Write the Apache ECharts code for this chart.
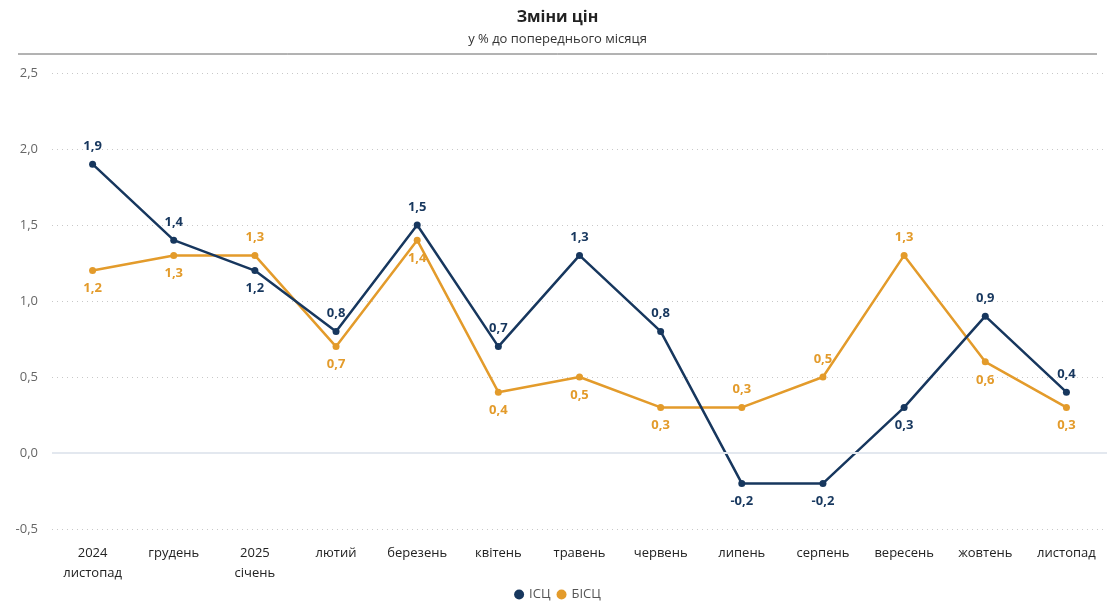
<!DOCTYPE html>
<html><head><meta charset="utf-8">
<script src="https://cdn.jsdelivr.net/npm/echarts@6/dist/echarts.min.js"></script>
<style>html,body{margin:0;padding:0;background:#fff}#c{width:1115px;height:606px}</style>
</head><body><div id="c"></div>
<script>
const categories = ['2024\nлистопад','грудень','2025\nсічень','лютий','березень','квітень','травень','червень','липень','серпень','вересень','жовтень','листопад'];
const isc = [1.9, 1.4, 1.2, 0.8, 1.5, 0.7, 1.3, 0.8, -0.2, -0.2, 0.3, 0.9, 0.4];
const bisc = [1.2, 1.3, 1.3, 0.7, 1.4, 0.4, 0.5, 0.3, 0.3, 0.5, 1.3, 0.6, 0.3];
const iscBelow = [2, 8, 9, 10];
const biscAbove = [2, 8, 9, 10];

const NAVY = '#17375e', ORANGE = '#e39b2b';
const fmt = v => v.toFixed(1).replace('.', ',');
const chart = echarts.init(document.getElementById('c'));
function mk(vals, isBelowFn) {
  return vals.map((v, i) => ({
    value: v,
    label: { position: isBelowFn(i) ? 'bottom' : 'top' }
  }));
}
chart.setOption({
  animation: false,
  textStyle: { fontFamily: '"Open Sans", "Noto Sans", sans-serif' },
  title: {
    text: 'Зміни цін', subtext: 'у % до попереднього місяця', left: 'center', top: 4,
    textStyle: { fontSize: 16, fontWeight: 'bold', color: '#222' },
    subtextStyle: { fontSize: 13, color: '#333' }, itemGap: 8
  },
  graphic: [{ type: 'line', shape: { x1: 18, y1: 54, x2: 1097, y2: 54 }, style: { stroke: '#666', lineWidth: 1 } }],
  legend: {
    bottom: 0, left: 'center', icon: 'circle', itemWidth: 10, itemHeight: 10, itemGap: 6,
    textStyle: { fontSize: 13, color: '#555' }
  },
  grid: { left: 52, right: 8, top: 73, bottom: 77 },
  xAxis: {
    type: 'category', data: categories, boundaryGap: true,
    axisLine: { show: false }, axisTick: { show: false },
    axisLabel: { color: '#222', fontSize: 13, lineHeight: 20, margin: 14 }
  },
  yAxis: {
    type: 'value', min: -0.5, max: 2.5, interval: 0.5,
    axisLabel: { color: '#666', fontSize: 13, formatter: v => fmt(v), margin: 14 },
    splitLine: { lineStyle: { type: [1, 4], color: '#c8c8c8' } },
    axisLine: { show: false }, axisTick: { show: false }
  },
  series: [
    {
      name: 'ІСЦ', type: 'line', data: mk(isc, i => iscBelow.includes(i)),
      color: NAVY, symbol: 'circle', symbolSize: 7, lineStyle: { width: 2.5 },
      label: { show: true, color: NAVY, fontWeight: 'bold', fontSize: 13, distance: 8, formatter: p => fmt(p.value) },
      markLine: { silent: true, symbol: 'none', label: { show: false }, lineStyle: { color: '#e3e8ef', type: 'solid', width: 2 }, data: [{ yAxis: 0 }] },
      z: 3
    },
    {
      name: 'БІСЦ', type: 'line', data: mk(bisc, i => !biscAbove.includes(i)),
      color: ORANGE, symbol: 'circle', symbolSize: 7, lineStyle: { width: 2.5 },
      label: { show: true, color: ORANGE, fontWeight: 'bold', fontSize: 13, distance: 8, formatter: p => fmt(p.value) },
      z: 2
    }
  ]
});
</script></body></html>
